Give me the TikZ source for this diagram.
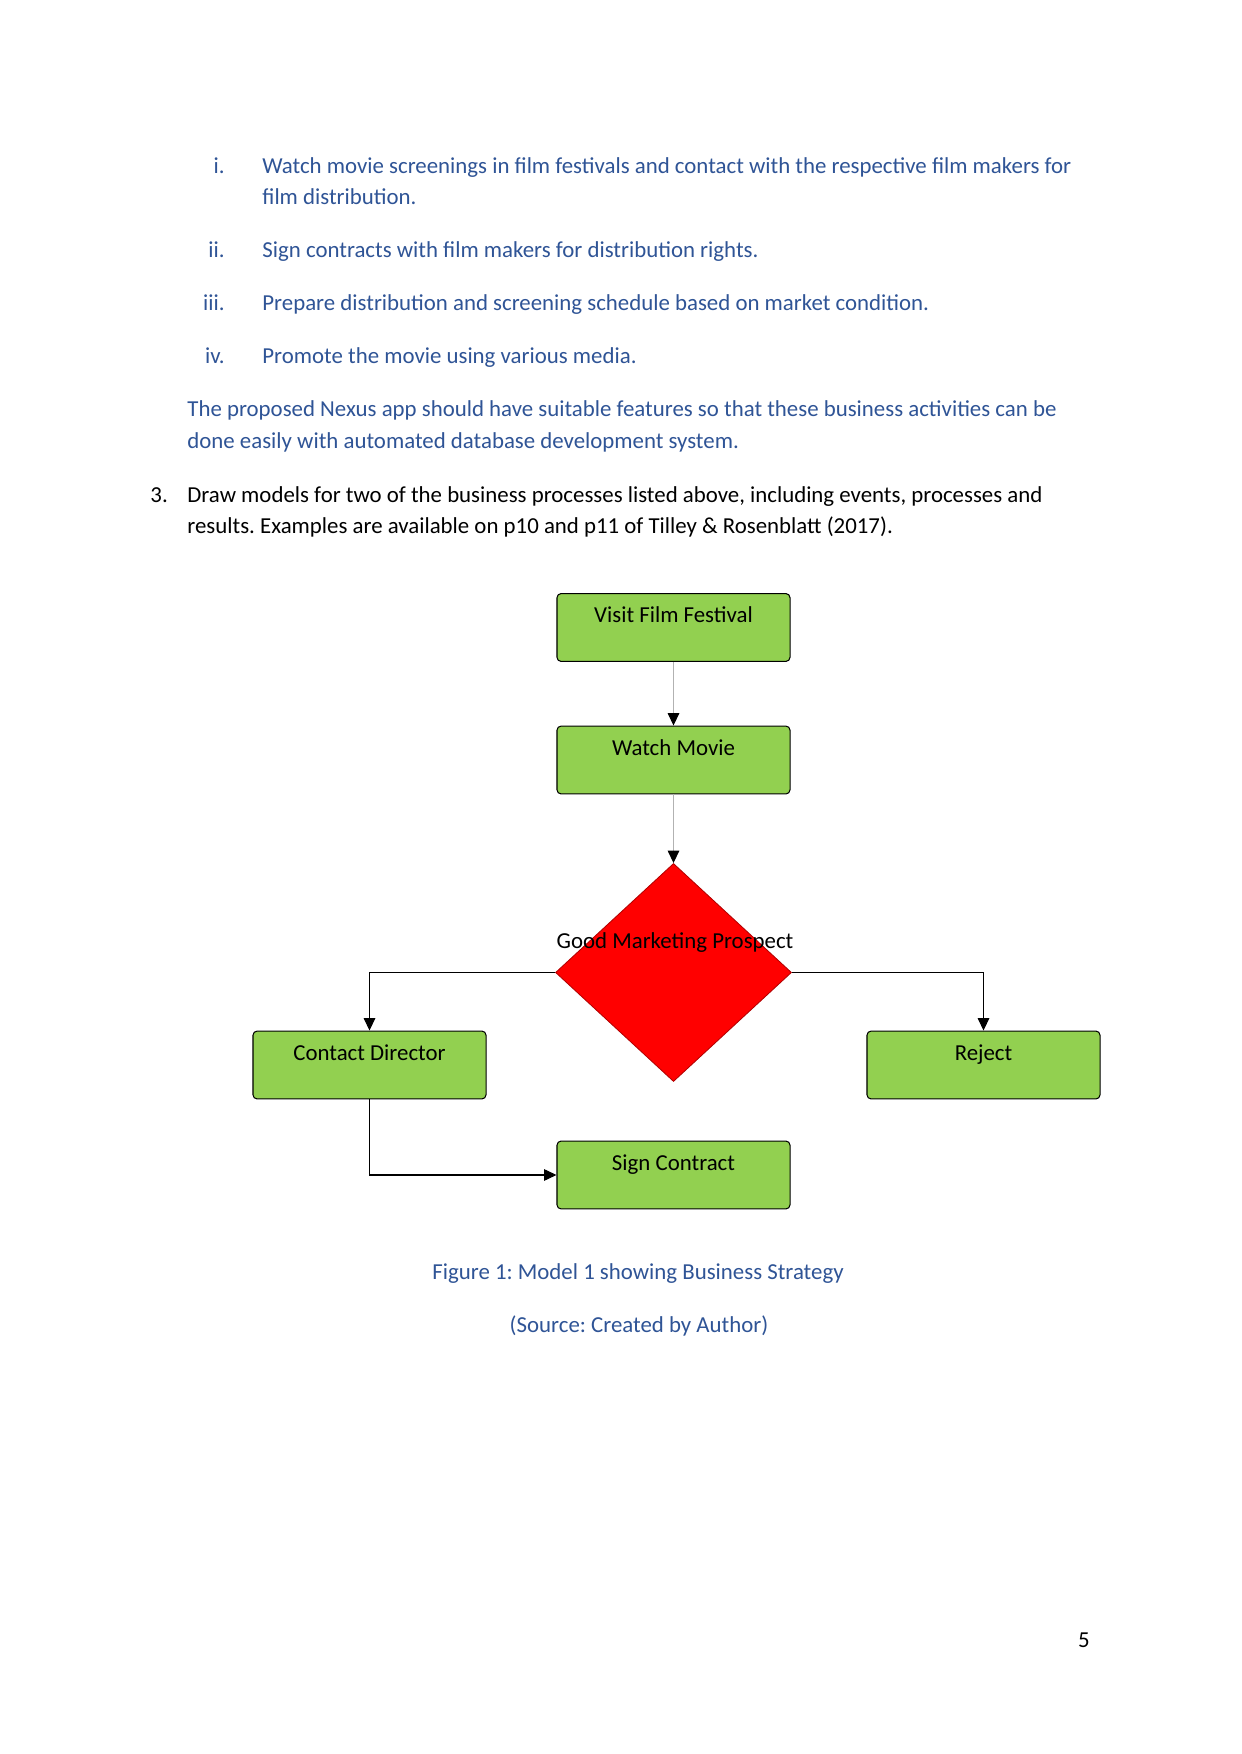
\documentclass[tikz,border=0pt]{standalone}
\usepackage{fontspec}
\setmainfont{Carlito}
\usepackage{tikz}
\usetikzlibrary{arrows.meta,positioning,shapes.geometric}
\definecolor{wordblue}{HTML}{2F5496}
\definecolor{boxgreen}{HTML}{92D050}
\definecolor{decisionred}{HTML}{FF0000}
\frenchspacing

\begin{document}
\begin{tikzpicture}[
    x=0.48147pt, y=-0.48147pt,
    node distance=31.3pt,
    body/.style={anchor=base west, inner sep=0pt, font=\fontsize{11}{15}\selectfont, text=wordblue},
    numeral/.style={body, anchor=base east},
    plain/.style={body, text=black},
    caption/.style={body, anchor=base},
    box/.style={rectangle, draw, rounded corners=2pt, fill=boxgreen, line width=0.5pt,
        minimum width=112.2pt, minimum height=32.7pt, inner ysep=3pt,
        text height=11pt, text depth=15.7pt, font=\fontsize{11}{13}\selectfont},
    decision/.style={diamond, draw=red!70!black, fill=decisionred, line width=0.4pt,
        minimum width=113.6pt, minimum height=105pt, inner sep=0pt},
    arr/.style={-{Triangle[length=6pt, width=5.6pt, black]}, line width=0.5pt},
]
    % page
    \fill[white] (0,0) rectangle (1241,1754);
    \useasboundingbox (0,0) rectangle (1241,1754);

    % Activities list
    \node[numeral] (n1) at (225,173.5) {i.};
    \node[body] (item1) at (262,173.5) {Watch movie screenings in film festivals and contact with the respective film makers for};
    \node[body] (item1b) at (262,205) {film distribution.};
    \node[numeral] (n2) at (225,257.5) {ii.};
    \node[body] (item2) at (262,257.5) {Sign contracts with film makers for distribution rights.};
    \node[numeral] (n3) at (225,311) {iii.};
    \node[body] (item3) at (262,311) {Prepare distribution and screening schedule based on market condition.};
    \node[numeral] (n4) at (225,364) {iv.};
    \node[body] (item4) at (262,364) {Promote the movie using various media.};

    % Paragraph
    \node[body] (para1) at (187,416.5) {The proposed Nexus app should have suitable features so that these business activities can be};
    \node[body] (para2) at (187,449) {done easily with automated database development system.};

    % Question 3
    \node[plain] (q3) at (150,502) {3.};
    \node[plain] (q3a) at (187,502) {Draw models for two of the business processes listed above, including events, processes and};
    \node[plain] (q3b) at (187,533.5) {results. Examples are available on p10 and p11 of Tilley \& Rosenblatt (2017).};

    % Flow chart
    \node[box] (visit) at (673.5,627.5) {Visit Film Festival};
    \node[box, below=30.6pt of visit] (watch) {Watch Movie};
    \node[decision, below=33pt of watch] (prospect) {};
    \node[box, below=28.2pt of prospect] (sign) {Sign Contract};
    \node[box] (contact) at (369.5,1065) {Contact Director};
    \node[box] (reject) at (983.5,1065) {Reject};
    \node[anchor=base, inner sep=0pt, font=\fontsize{11}{13}\selectfont] (question) at (675,948) {Good Marketing Prospect};

    % Arrows
    \draw[arr, gray!60] (visit) -- (watch);
    \draw[arr, gray!60] (watch) -- (prospect.north);
    \draw[arr] (prospect.west) -| (contact.north);
    \draw[arr] (prospect.east) -| (reject.north);
    \draw[arr] (contact.south) |- (sign.west);

    % Caption
    \node[caption] (fig) at (638,1279) {Figure 1: Model 1 showing Business Strategy};
    \node[caption] (source) at (639,1332) {(Source: Created by Author)};

    % Page number
    \node[plain, anchor=base] (page) at (1084,1647) {5};
\end{tikzpicture}
\end{document}
